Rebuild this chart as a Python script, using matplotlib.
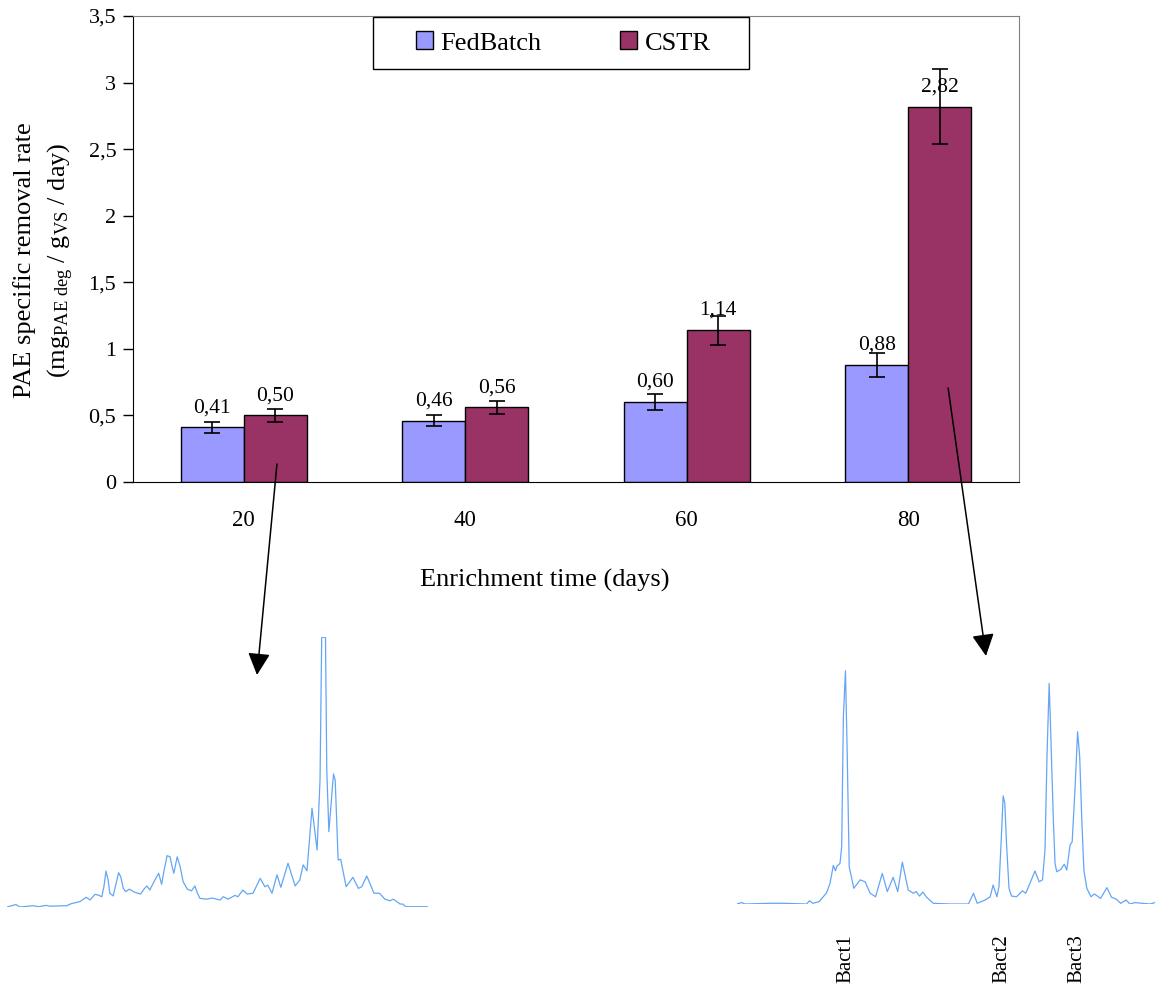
import numpy as np
import matplotlib
matplotlib.use('Agg')
import matplotlib.pyplot as plt
from matplotlib.patches import Rectangle, ConnectionPatch
from matplotlib.ticker import FuncFormatter

plt.rcParams['font.family'] = ['Liberation Serif', 'DejaVu Serif']
plt.rcParams['mathtext.fontset'] = 'custom'
plt.rcParams['mathtext.rm'] = 'Liberation Serif'
plt.rcParams['mathtext.it'] = 'Liberation Serif:italic'

# Taxa de remoção específica (barras)
days = ['20', '40', '60', '80']
fedbatch = [0.41, 0.46, 0.60, 0.88]
fedbatch_err = [0.04, 0.04, 0.06, 0.09]
cstr = [0.50, 0.56, 1.14, 2.82]
cstr_err = [0.05, 0.05, 0.11, 0.28]

# Perfis DGGE (posição relativa 0-100, intensidade relativa 0-100)
dgge20_x = [0, 2.1, 3.1, 6.2, 7.4, 9.3, 10.2, 14.2, 15.2, 17.3, 18.8, 19.7, 20.9, 21.7,
            22.5, 23.0, 23.5, 24.0, 24.4, 25.2, 25.9, 26.5, 27.0, 27.6, 28.2, 29.0, 30.4,
            31.7, 32.5, 33.2, 33.9, 34.9, 36.0, 36.7, 37.3, 38.0, 38.7, 39.2, 39.6, 40.4,
            41.1, 41.8, 42.8, 43.8, 44.6, 45.2, 45.8, 47.4, 48.7, 50.6, 51.3, 52.5, 54.1,
            54.8, 56.0, 57.0, 58.4, 60.1, 61.2, 61.9, 62.9, 64.1, 65.0, 66.7, 68.4, 69.5,
            70.3, 71.2, 72.4, 73.6, 74.3, 74.7, 75.6, 75.9, 76.4, 77.5, 77.9, 78.6, 79.2,
            80.5, 82.1, 83.4, 84.2, 85.4, 87.1, 88.4, 89.7, 90.9, 91.7, 93.3, 93.9, 94.7, 100]
dgge20_y = [0, 0.9, 0, 0.5, 0.1, 0.6, 0.3, 0.5, 1.2, 2.0, 3.6, 2.6, 4.7, 4.4,
            3.8, 7.5, 13.3, 10.0, 5.1, 4.1, 8.8, 12.7, 11.2, 6.9, 5.7, 6.6, 5.4,
            4.8, 6.6, 7.8, 6.3, 9.4, 12.5, 8.4, 13.7, 19.0, 18.6, 14.9, 12.5, 18.6,
            14.9, 9.4, 6.6, 6.0, 7.8, 5.1, 3.2, 2.9, 3.3, 2.6, 3.8, 2.9, 4.3,
            3.8, 6.3, 4.8, 5.1, 10.6, 7.5, 8.1, 5.1, 11.9, 7.3, 16.2, 7.8, 10.0,
            15.6, 13.4, 36.6, 21.1, 47.0, 99.9, 99.9, 50.7, 27.9, 49.3, 47.0, 17.4, 17.7,
            7.5, 11.0, 6.9, 7.5, 11.5, 5.1, 5.1, 2.9, 2.3, 2.9, 1.1, 1.1, 0.1, 0.1]

dgge80_x = [0, 1.2, 2.0, 8.0, 11.1, 16.7, 17.4, 18.2, 19.7, 21.5, 22.3, 23.1, 23.6, 24.0,
            24.7, 25.1, 25.5, 26.0, 26.4, 26.9, 28.0, 29.5, 30.7, 31.9, 33.2, 34.8, 36.0,
            37.4, 38.5, 39.6, 41.0, 42.2, 42.9, 43.7, 44.5, 45.4, 47.0, 51.0, 55.4, 56.6,
            57.5, 59.4, 60.6, 61.3, 62.2, 62.7, 63.2, 63.7, 64.1, 64.5, 65.1, 65.7, 66.9,
            68.3, 69.1, 70.1, 71.3, 72.3, 73.1, 73.7, 74.2, 74.7, 75.1, 75.7, 76.1, 76.5,
            77.5, 78.3, 78.9, 79.7, 80.2, 80.9, 81.5, 82.0, 82.5, 83.0, 83.7, 84.7, 85.5,
            87.0, 88.5, 89.6, 90.8, 91.8, 93.1, 94.0, 95.2, 98.8, 100]
dgge80_y = [0, 0.6, 0, 0.3, 0.3, 0, 1.4, 0.3, 1.0, 4.8, 8.8, 16.5, 14.2, 16.2,
            17.4, 24.5, 80.0, 99.7, 65.8, 15.9, 6.7, 10.3, 9.5, 4.6, 3.1, 13.1, 5.3,
            11.4, 5.3, 17.9, 6.0, 4.6, 5.3, 3.4, 5.1, 2.9, 0.3, 0, 0, 4.6,
            0.3, 1.7, 3.1, 8.1, 3.1, 7.4, 25.9, 46.2, 43.0, 25.9, 6.7, 3.4, 3.1,
            5.6, 4.6, 8.8, 14.1, 9.5, 10.3, 23.1, 64.4, 94.3, 71.5, 35.9, 17.4, 13.8,
            14.8, 17.0, 14.5, 25.2, 26.6, 50.1, 73.6, 62.9, 35.9, 14.5, 6.7, 3.1, 4.3,
            2.4, 7.0, 2.9, 2.0, 0.3, 1.7, 0, 0.6, 0, 0.6]

bact_labels = ['Bact1', 'Bact2', 'Bact3']
bact_pos = [26.0, 63.3, 81.4]

W, H = 1155, 989


def rect(x0, y0, x1, y1):
    # caixa em pixels (topo-esquerda) -> fracao da figura
    return [x0 / W, 1 - y1 / H, (x1 - x0) / W, (y1 - y0) / H]


def fig_pt(px, py):
    return (px / W, 1 - py / H)


def virgula(v, pos=None):
    s = ('%.1f' % v).rstrip('0').rstrip('.')
    return s.replace('.', ',')


fig = plt.figure(figsize=(W / 100, H / 100), dpi=100)

# --- grafico de barras ---
ax = fig.add_axes(rect(133, 16, 1019, 482))
x = np.arange(len(days))
w = 0.285
err_style = dict(ecolor='black', elinewidth=1.2, capsize=6, capthick=1.2)
b1 = ax.bar(x - w / 2, fedbatch, w, yerr=fedbatch_err, color='#9999FF',
            edgecolor='black', linewidth=1, label='FedBatch', error_kw=err_style)
b2 = ax.bar(x + w / 2, cstr, w, yerr=cstr_err, color='#993366',
            edgecolor='black', linewidth=1, label='CSTR', error_kw=err_style)

for xs, vals in [(x - w / 2, fedbatch), (x + w / 2, cstr)]:
    for xi, v in zip(xs, vals):
        ax.annotate(('%.2f' % v).replace('.', ','), (xi, v), xytext=(0, 11),
                    textcoords='offset points', ha='center', va='baseline', fontsize=15.5)

ax.set_xlim(-0.5, 3.5)
ax.set_ylim(0, 3.5)
ax.set_yticks(np.arange(0, 3.51, 0.5))
ax.yaxis.set_major_formatter(FuncFormatter(virgula))
ax.set_xticks(x)
ax.set_xticklabels(days)
ax.tick_params(axis='y', direction='out', length=7, width=1, pad=5, labelsize=16)
ax.tick_params(axis='x', length=0, pad=20, labelsize=16.5)
for s in ['top', 'right']:
    ax.spines[s].set_color('#808080')
for s in ['left', 'bottom']:
    ax.spines[s].set_color('black')

fig.text(*fig_pt(545, 587), 'Enrichment time (days)', ha='center', va='baseline', fontsize=19)
fig.text(*fig_pt(25, 260), 'PAE specific removal rate', rotation=90,
         ha='center', va='center', fontsize=19)
fig.text(*fig_pt(61, 260), r'(mg$_{\mathrm{PAE\ deg}}$ / g$_{\mathrm{VS}}$ / day)',
         rotation=90, ha='center', va='center', fontsize=19)

# legenda com moldura
ax.legend(handles=[b1, b2], loc='center', bbox_to_anchor=fig_pt(563, 43),
          bbox_transform=fig.transFigure, ncol=2, frameon=False, fontsize=19,
          handlelength=0.65, handleheight=0.65, handletextpad=0.27, columnspacing=3.0)
fig.add_artist(Rectangle(fig_pt(373, 69), (749 - 373) / W, (69 - 17) / H,
                         transform=fig.transFigure, fill=False, edgecolor='black', lw=1))

# --- perfis DGGE ---
ax20 = fig.add_axes(rect(7, 637, 428.3, 907))
ax20.plot(dgge20_x, dgge20_y, color='#64a6f5', lw=0.9)
ax20.set_xlim(0, 100)
ax20.set_ylim(0, 100)
ax20.axis('off')

ax80 = fig.add_axes(rect(736.7, 670, 1155, 904))
ax80.plot(dgge80_x, dgge80_y, color='#64a6f5', lw=0.9)
ax80.set_xlim(0, 100)
ax80.set_ylim(0, 100)
ax80.axis('off')
for lab, p in zip(bact_labels, bact_pos):
    ax80.text(p, -0.13, lab, transform=ax80.get_xaxis_transform(), rotation=90,
              ha='center', va='top', fontsize=15)

# setas das barras para os perfis
for xa, ya, tip in [(0.15, 0.135, (257, 675)), (3.18, 0.706, (986, 656))]:
    con = ConnectionPatch(xyA=(xa, ya), coordsA='data', axesA=ax,
                          xyB=fig_pt(*tip), coordsB='figure fraction',
                          arrowstyle='-|>,head_length=13.5,head_width=6.8',
                          mutation_scale=1, color='black', lw=1.1,
                          shrinkA=0, shrinkB=0)
    fig.add_artist(con)

fig.savefig('out.png', dpi=100)
